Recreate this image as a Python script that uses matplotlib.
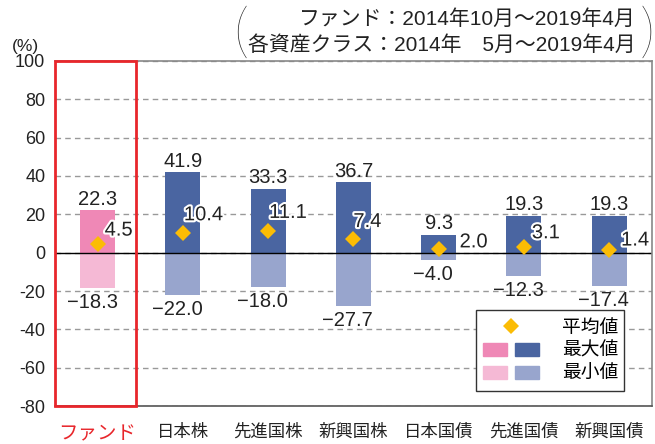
import matplotlib
matplotlib.use("Agg")
import matplotlib.pyplot as plt
import matplotlib.patheffects as pe
from matplotlib.lines import Line2D
from matplotlib.patches import Patch, Rectangle
from matplotlib.legend_handler import HandlerTuple

plt.rcParams["font.family"] = ["Liberation Sans", "Noto Sans CJK JP"]

categories = ["ファンド", "日本株", "先進国株", "新興国株", "日本国債", "先進国債", "新興国債"]
max_vals = [22.3, 41.9, 33.3, 36.7, 9.3, 19.3, 19.3]
min_vals = [-18.3, -22.0, -18.0, -27.7, -4.0, -12.3, -17.4]
mean_vals = [4.5, 10.4, 11.1, 7.4, 2.0, 3.1, 1.4]
yticks = [100, 80, 60, 40, 20, 0, -20, -40, -60, -80]

# label offsets for the mean values (pixels, from the diamond)
mean_offsets = [(7, 14), (1, 18), (1, 19), (0, 17), (21, 7), (8, 14), (12, 10)]

PINK_MAX, PINK_MIN = "#ef88b6", "#f5b9d5"
BLUE_MAX, BLUE_MIN = "#4a65a1", "#98a5cd"
GOLD = "#fbbc05"
RED = "#e8262b"
TXT = "#222222"

fig = plt.figure(figsize=(6.55, 4.44), dpi=100)
ax = fig.add_axes([0.084, 0.085, 0.911, 0.778])

x = list(range(len(categories)))
w = 0.41
cmax = [PINK_MAX] + [BLUE_MAX] * (len(x) - 1)
cmin = [PINK_MIN] + [BLUE_MIN] * (len(x) - 1)
ax.bar(x, max_vals, width=w, color=cmax, zorder=2)
ax.bar(x, min_vals, width=w, color=cmin, zorder=2)
ax.plot(x, mean_vals, linestyle="none", marker="D", markersize=8.5,
        color=GOLD, markeredgewidth=0, zorder=3)

def fmt(v):
    return ("−" if v < 0 else "") + "%.1f" % abs(v)

for i in x:
    ax.annotate(fmt(max_vals[i]), (i, max_vals[i]), xytext=(0, 1),
                textcoords="offset points", ha="center", va="bottom",
                fontsize=14.5, color=TXT)
    ax.annotate(fmt(min_vals[i]), (i, min_vals[i]), xytext=(-4, -3.5),
                textcoords="offset points", ha="center", va="top",
                fontsize=14.5, color=TXT)
    dx, dy = mean_offsets[i]
    ax.annotate(fmt(mean_vals[i]), (i, mean_vals[i]), xytext=(dx, dy),
                textcoords="offset pixels", ha="left", va="center",
                fontsize=14.5, color=TXT, zorder=4,
                path_effects=[pe.withStroke(linewidth=3, foreground="white")])

ax.axhline(0, color="black", linewidth=1, zorder=2)
ax.set_xlim(-0.5, len(x) - 0.5)
ax.set_ylim(-80, 100)
ax.set_yticks(yticks)
ax.set_yticklabels([str(t) for t in yticks], fontsize=13, color=TXT)
ax.yaxis.grid(True, linestyle=(0, (4, 3)), color="#999999", linewidth=1)
ax.set_axisbelow(True)
ax.tick_params(axis="both", length=0)
ax.tick_params(axis="y", pad=7)
ax.set_xticks(x)
ax.set_xticklabels(categories, fontsize=12.5, family="Noto Sans CJK JP",
                   color=TXT)
ax.tick_params(axis="x", pad=12)
lbl = ax.get_xticklabels()[0]
lbl.set_color(RED)
lbl.set_fontsize(14)

for s in ["top", "right", "bottom"]:
    ax.spines[s].set_color("#888888")
    ax.spines[s].set_linewidth(1.2)
ax.spines["bottom"].set_color("#555555")
ax.spines["left"].set_visible(False)

ax.add_patch(Rectangle((-0.5, -80), 0.95, 180, fill=False, edgecolor=RED,
                       linewidth=2, zorder=5, clip_on=False))

handles = [
    Line2D([], [], linestyle="none", marker="D", markersize=8.5, color=GOLD,
           markeredgewidth=0),
    (Patch(color=PINK_MAX), Patch(color=BLUE_MAX)),
    (Patch(color=PINK_MIN), Patch(color=BLUE_MIN)),
]
leg = ax.legend(handles, ["平均値", "最大値", "最小値"],
                handler_map={tuple: HandlerTuple(ndivide=None, pad=0.4)},
                loc="lower right", bbox_to_anchor=(0.97, 0.018),
                prop={"family": "Noto Sans CJK JP", "size": 13.5},
                handlelength=3.0, handleheight=0.7, handletextpad=1.2,
                labelspacing=0.12, borderpad=0.35, fancybox=False,
                edgecolor="#333333", framealpha=1)
leg.get_frame().set_linewidth(1.0)
leg.set_zorder(6)

fig.text(0.018, 0.895, "(%)", fontsize=12.5, ha="left", va="center",
         color=TXT)
fig.text(0.971, 0.958, "ファンド：2014年10月～2019年4月", fontsize=15,
         ha="right", va="center", color=TXT)
fig.text(0.971, 0.899, "各資産クラス：2014年　5月～2019年4月", fontsize=15,
         ha="right", va="center", color=TXT)
fig.text(0.356, 0.922, "(", fontsize=43, ha="left", va="center",
         color=TXT, family="Lato", fontweight="light")
fig.text(0.999, 0.922, ")", fontsize=43, ha="right", va="center",
         color=TXT, family="Lato", fontweight="light")

fig.savefig("out.png", dpi=100)
